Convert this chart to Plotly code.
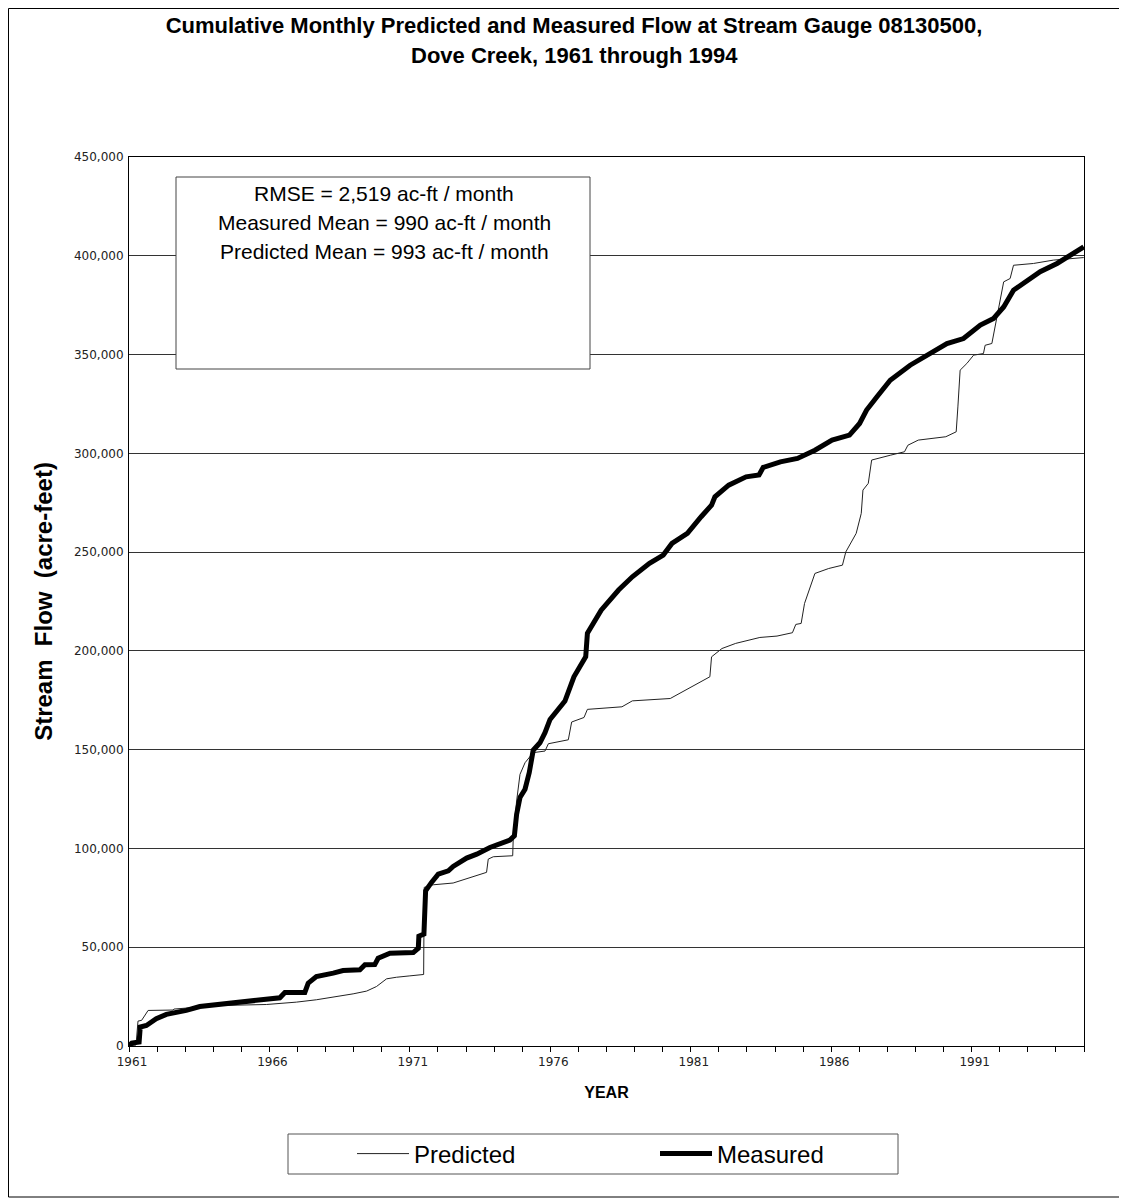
import plotly.graph_objects as go

# Measured cumulative flow (decimal year, acre-feet)
meas_year = [1961.00, 1961.10, 1961.36, 1961.40, 1961.62, 1961.97, 1962.33, 1962.69, 1963.04,
             1963.52, 1964.11, 1964.82, 1965.42, 1966.01, 1966.37, 1966.55, 1967.26, 1967.38,
             1967.67, 1968.27, 1968.62, 1969.22, 1969.40, 1969.75, 1969.87, 1970.29, 1971.12,
             1971.30, 1971.32, 1971.50, 1971.56, 1971.77, 1972.01, 1972.37, 1972.54, 1973.02,
             1973.38, 1973.85, 1974.21, 1974.56, 1974.72, 1974.80, 1974.92, 1975.10, 1975.25,
             1975.39, 1975.63, 1975.81, 1975.99, 1976.23, 1976.52, 1976.84, 1977.26, 1977.32,
             1977.81, 1978.43, 1978.92, 1979.53, 1980.02, 1980.33, 1980.88, 1981.37, 1981.74,
             1981.86, 1982.35, 1982.97, 1983.43, 1983.58, 1984.19, 1984.80, 1985.42, 1986.03,
             1986.65, 1987.01, 1987.26, 1987.63, 1988.10, 1988.81, 1989.52, 1990.12, 1990.71,
             1991.31, 1991.78, 1992.14, 1992.49, 1992.85, 1993.44, 1994.04, 1994.51, 1994.99]
meas_flow = [0, 1500, 2000, 9600, 10400, 13800, 16000, 16700, 18000,
             20000, 20900, 21700, 22600, 23400, 24400, 27100, 27100, 31800,
             35200, 36900, 38200, 38600, 41100, 41200, 44400, 47000, 47300,
             49500, 55600, 56700, 78600, 82800, 87000, 88700, 90900, 95100,
             97100, 100500, 102500, 104200, 106400, 117300, 125800, 130000, 138400,
             149700, 153500, 158600, 165300, 169500, 174600, 186900, 197000, 208900,
             220600, 230800, 237500, 244300, 248500, 254400, 259500, 267900, 273800,
             278000, 283900, 288100, 289000, 292900, 295700, 297400, 301600, 306700,
             309200, 315100, 321900, 328600, 337000, 344600, 350500, 355600, 358100,
             364900, 368300, 374100, 382600, 386000, 391900, 396100, 400300, 404500]

# Predicted cumulative flow (decimal year, acre-feet)
pred_year = [1961.00, 1961.25, 1961.32, 1961.45, 1961.68, 1962.57, 1962.60, 1963.40, 1964.23,
             1965.89, 1966.96, 1967.67, 1968.27, 1968.98, 1969.46, 1969.81, 1970.17, 1970.52,
             1971.00, 1971.49, 1971.51, 1971.83, 1972.54, 1973.26, 1973.73, 1973.79, 1973.97,
             1974.66, 1974.68, 1974.80, 1974.92, 1975.10, 1975.39, 1975.81, 1975.93, 1976.64,
             1976.76, 1977.20, 1977.32, 1978.55, 1978.92, 1980.27, 1980.70, 1981.25, 1981.68,
             1981.74, 1982.11, 1982.60, 1983.46, 1984.07, 1984.62, 1984.74, 1984.93, 1985.05,
             1985.42, 1985.91, 1986.40, 1986.52, 1986.89, 1987.07, 1987.13, 1987.32, 1987.44,
             1988.12, 1988.61, 1988.73, 1989.10, 1990.08, 1990.45, 1990.51, 1990.59, 1990.83,
             1991.07, 1991.42, 1991.48, 1991.72, 1991.90, 1992.02, 1992.14, 1992.37, 1992.49,
             1993.20, 1993.91, 1994.99]
pred_flow = [0, 500, 12600, 13000, 18000, 18200, 18700, 19700, 20500,
             21000, 22200, 23400, 24700, 26400, 27800, 30100, 34000, 34800,
             35500, 36200, 80300, 81600, 82500, 85700, 87900, 94600, 95800,
             96300, 105600, 124000, 137500, 143400, 148500, 149300, 153000, 155000,
             164000, 166300, 170400, 171700, 174700, 175900, 179300, 183500, 186900,
             197000, 201200, 203800, 206800, 207500, 209200, 213400, 213900, 224000,
             239200, 241700, 243400, 250100, 259500, 269600, 281400, 284800, 296600,
             299100, 300800, 304100, 306700, 308400, 310900, 323500, 342100, 345500,
             349700, 350500, 354700, 355600, 369100, 379200, 386800, 388500, 395200,
             396100, 397800, 399100]

stats_lines = ["RMSE = 2,519 ac-ft / month",
               "Measured Mean = 990 ac-ft / month",
               "Predicted Mean = 993 ac-ft / month"]

OFF = 8                      # page body margin
W, H = 1127 - OFF, 1199 - OFF
# plot area, in page pixels of the target
L, R, T, B = 129, 1084, 157, 1046
FONT = 'Liberation Sans, Arial'


def px(x):
    return (x - L) / (R - L)


def py(y):
    return (B - y) / (B - T)


fig = go.Figure()
fig.add_trace(go.Scatter(x=pred_year, y=pred_flow, name='Predicted', mode='lines',
                         line=dict(color='#222222', width=1)))
fig.add_trace(go.Scatter(x=meas_year, y=meas_flow, name='Measured', mode='lines',
                         line=dict(color='black', width=5)))

# outer frame, stats box, legend box
fig.add_shape(type='rect', xref='paper', yref='paper', x0=px(OFF + 0.5), x1=px(1125), y0=py(1197), y1=py(OFF + 0.5),
              line=dict(color='black', width=1), layer='below')
fig.add_shape(type='rect', xref='paper', yref='paper', x0=px(176), x1=px(590), y0=py(369), y1=py(177),
              line=dict(color='#444444', width=1), fillcolor='white', layer='above')
fig.add_shape(type='rect', xref='paper', yref='paper', x0=px(288), x1=px(898), y0=py(1174), y1=py(1134),
              line=dict(color='#555555', width=1), fillcolor='white', layer='below')

for i, txt in enumerate(stats_lines):
    fig.add_annotation(text=txt, xref='paper', yref='paper', x=px(384), y=py(193 + 29 * i),
                       showarrow=False, xanchor='center', yanchor='middle',
                       font=dict(family=FONT, size=21, color='black'))

fig.add_annotation(text='<b>Dove Creek, 1961 through 1994</b>', xref='paper', yref='paper',
                   x=px(574), y=py(55), showarrow=False, xanchor='center', yanchor='middle',
                   font=dict(family=FONT, size=22, color='black'))

fig.update_layout(
    width=W, height=H,
    margin=dict(l=L - OFF, r=1127 - R, t=T - OFF, b=1199 - B),
    paper_bgcolor='white', plot_bgcolor='white',
    title=dict(text='<b>Cumulative Monthly Predicted and Measured Flow at Stream Gauge 08130500,</b>',
               xref='container', x=(574 - OFF) / W, xanchor='center',
               yref='container', y=1 - (25 - OFF) / H, yanchor='middle',
               font=dict(family=FONT, size=22, color='black')),
    showlegend=True,
    legend=dict(orientation='h', xref='container', yref='container',
                x=(352 - OFF) / W, xanchor='left', y=1 - (1154 - OFF) / H, yanchor='middle',
                itemwidth=52, entrywidth=236, entrywidthmode='pixels',
                font=dict(family=FONT, size=24, color='black'),
                bgcolor='rgba(0,0,0,0)', borderwidth=0),
)

fig.update_xaxes(range=[1961, 1995], tick0=1961, dtick=5, tickformat='d',
                 ticks='outside', ticklen=5, tickcolor='black', ticklabelshift=3,
                 minor=dict(dtick=1, ticks='outside', ticklen=5, tickcolor='black'),
                 showline=True, linecolor='black', linewidth=1, mirror=True,
                 showgrid=False, zeroline=False,
                 tickfont=dict(family='DejaVu Sans', size=12, color='#222222'),
                 title=dict(text='<b>YEAR</b>', standoff=18,
                            font=dict(family=FONT, size=16, color='black')))
fig.update_yaxes(range=[0, 450000], dtick=50000, tickformat=',d',
                 ticks='', ticklabelstandoff=2,
                 showline=True, linecolor='black', linewidth=1, mirror=True,
                 showgrid=True, gridcolor='#333333', gridwidth=1, zeroline=False,
                 tickfont=dict(family='DejaVu Sans', size=12, color='#222222'),
                 title=dict(text='<b>Stream  Flow  (acre-feet)</b>', standoff=14,
                            font=dict(family=FONT, size=24, color='black')))

fig.write_html("out.html")
